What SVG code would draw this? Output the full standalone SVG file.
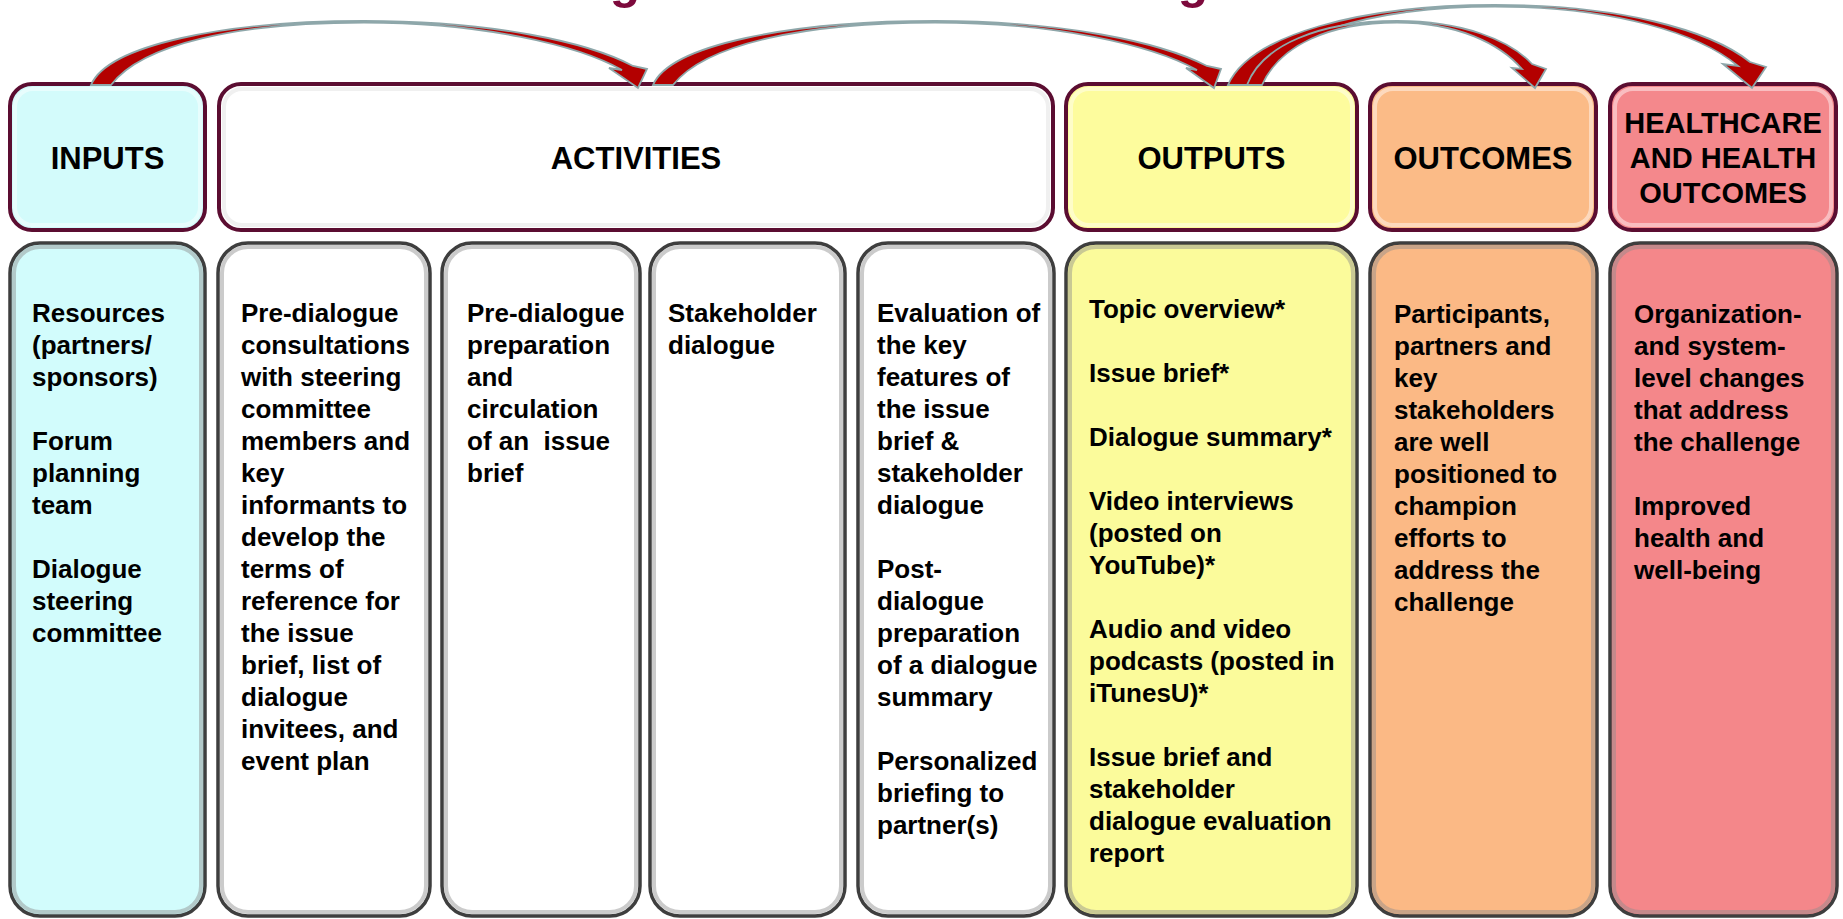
<svg xmlns="http://www.w3.org/2000/svg" width="1843" height="919" viewBox="0 0 1843 919">
<style>
.hb{stroke:#5b0d31;stroke-width:4}
.hi{fill:none;stroke:#ffffff;stroke-opacity:.45;stroke-width:4}
.cb{stroke:#3e3e3e;stroke-width:3.5}
.ci{fill:none;stroke:#8c8c8c;stroke-opacity:.45;stroke-width:4}
.h{font-family:"Liberation Sans",Arial,sans-serif;font-weight:bold;font-size:31px;fill:#000;text-anchor:middle}
.h2{font-size:29px}
.b{font-family:"Liberation Sans",Arial,sans-serif;font-weight:bold;font-size:26px;fill:#000}
.arr{fill:#b30000;stroke:#8ea7aa;stroke-width:1.8;stroke-linejoin:miter}
.ttl{font-family:"Liberation Sans",Arial,sans-serif;font-weight:bold;font-size:50px;fill:#7d0a3c;text-anchor:middle}
</style>
<rect width="1843" height="919" fill="#ffffff"/>
<g id="title-fragments">
<text class="ttl" x="625" y="-2">g</text>
<text class="ttl" x="1193" y="-2">g</text>
</g>
<g id="hdr-inputs">
<rect class="hb" x="10" y="84" width="195" height="146" rx="22" fill="#d3fbfb"/>
<rect class="hi" x="15" y="89" width="185" height="136" rx="18"/>
<text class="h" x="107.5" y="169">INPUTS</text>
</g>
<g id="hdr-activities">
<rect class="hb" x="219" y="84" width="834" height="146" rx="22" fill="#ffffff"/>
<rect class="hi" x="224" y="89" width="824" height="136" rx="18" style="stroke:#e6e6e6;stroke-opacity:.6"/>
<text class="h" x="636" y="169">ACTIVITIES</text>
</g>
<g id="hdr-outputs">
<rect class="hb" x="1066" y="84" width="291" height="146" rx="22" fill="#fdfc9d"/>
<rect class="hi" x="1071" y="89" width="281" height="136" rx="18"/>
<text class="h" x="1211.5" y="169">OUTPUTS</text>
</g>
<g id="hdr-outcomes">
<rect class="hb" x="1370" y="84" width="226" height="146" rx="22" fill="#fbbb87"/>
<rect class="hi" x="1375" y="89" width="216" height="136" rx="18"/>
<text class="h" x="1483" y="169">OUTCOMES</text>
</g>
<g id="hdr-health">
<rect class="hb" x="1610" y="84" width="226" height="146" rx="22" fill="#f4888c"/>
<rect class="hi" x="1615" y="89" width="216" height="136" rx="18"/>
<text class="h h2"><tspan x="1723" y="133">HEALTHCARE</tspan><tspan x="1723" y="168">AND HEALTH</tspan><tspan x="1723" y="203">OUTCOMES</tspan></text>
</g>
<g id="col-inputs">
<rect class="cb" x="10" y="243" width="195" height="673" rx="30" fill="#d2fcfc"/>
<rect class="ci" x="14" y="247" width="187" height="665" rx="26"/>
<text class="b"><tspan x="32" y="322">Resources</tspan><tspan x="32" y="354">(partners/</tspan><tspan x="32" y="386">sponsors)</tspan><tspan x="32" y="450">Forum</tspan><tspan x="32" y="482">planning</tspan><tspan x="32" y="514">team</tspan><tspan x="32" y="578">Dialogue</tspan><tspan x="32" y="610">steering</tspan><tspan x="32" y="642">committee</tspan></text>
</g>
<g id="col-act1">
<rect class="cb" x="218" y="243" width="212" height="673" rx="30" fill="#ffffff"/>
<rect class="ci" x="222" y="247" width="204" height="665" rx="26"/>
<text class="b"><tspan x="241" y="322">Pre-dialogue</tspan><tspan x="241" y="354">consultations</tspan><tspan x="241" y="386">with steering</tspan><tspan x="241" y="418">committee</tspan><tspan x="241" y="450">members and</tspan><tspan x="241" y="482">key</tspan><tspan x="241" y="514">informants to</tspan><tspan x="241" y="546">develop the</tspan><tspan x="241" y="578">terms of</tspan><tspan x="241" y="610">reference for</tspan><tspan x="241" y="642">the issue</tspan><tspan x="241" y="674">brief, list of</tspan><tspan x="241" y="706">dialogue</tspan><tspan x="241" y="738">invitees, and</tspan><tspan x="241" y="770">event plan</tspan></text>
</g>
<g id="col-act2">
<rect class="cb" x="442" y="243" width="198" height="673" rx="30" fill="#ffffff"/>
<rect class="ci" x="446" y="247" width="190" height="665" rx="26"/>
<text class="b" xml:space="preserve"><tspan x="467" y="322">Pre-dialogue</tspan><tspan x="467" y="354">preparation</tspan><tspan x="467" y="386">and</tspan><tspan x="467" y="418">circulation</tspan><tspan x="467" y="450">of an  issue</tspan><tspan x="467" y="482">brief</tspan></text>
</g>
<g id="col-act3">
<rect class="cb" x="650" y="243" width="195" height="673" rx="30" fill="#ffffff"/>
<rect class="ci" x="654" y="247" width="187" height="665" rx="26"/>
<text class="b"><tspan x="668" y="322">Stakeholder</tspan><tspan x="668" y="354">dialogue</tspan></text>
</g>
<g id="col-act4">
<rect class="cb" x="858" y="243" width="196" height="673" rx="30" fill="#ffffff"/>
<rect class="ci" x="862" y="247" width="188" height="665" rx="26"/>
<text class="b"><tspan x="877" y="322">Evaluation of</tspan><tspan x="877" y="354">the key</tspan><tspan x="877" y="386">features of</tspan><tspan x="877" y="418">the issue</tspan><tspan x="877" y="450">brief &amp;</tspan><tspan x="877" y="482">stakeholder</tspan><tspan x="877" y="514">dialogue</tspan><tspan x="877" y="578">Post-</tspan><tspan x="877" y="610">dialogue</tspan><tspan x="877" y="642">preparation</tspan><tspan x="877" y="674">of a dialogue</tspan><tspan x="877" y="706">summary</tspan><tspan x="877" y="770">Personalized</tspan><tspan x="877" y="802">briefing to</tspan><tspan x="877" y="834">partner(s)</tspan></text>
</g>
<g id="col-outputs">
<rect class="cb" x="1066" y="243" width="291" height="673" rx="30" fill="#fbfb9b"/>
<rect class="ci" x="1070" y="247" width="283" height="665" rx="26"/>
<text class="b"><tspan x="1089" y="318">Topic overview*</tspan><tspan x="1089" y="382">Issue brief*</tspan><tspan x="1089" y="446">Dialogue summary*</tspan><tspan x="1089" y="510">Video interviews</tspan><tspan x="1089" y="542">(posted on</tspan><tspan x="1089" y="574">YouTube)*</tspan><tspan x="1089" y="638">Audio and video</tspan><tspan x="1089" y="670">podcasts (posted in</tspan><tspan x="1089" y="702">iTunesU)*</tspan><tspan x="1089" y="766">Issue brief and</tspan><tspan x="1089" y="798">stakeholder</tspan><tspan x="1089" y="830">dialogue evaluation</tspan><tspan x="1089" y="862">report</tspan></text>
</g>
<g id="col-outcomes">
<rect class="cb" x="1370" y="243" width="227" height="673" rx="30" fill="#fbb985"/>
<rect class="ci" x="1374" y="247" width="219" height="665" rx="26"/>
<text class="b"><tspan x="1394" y="323">Participants,</tspan><tspan x="1394" y="355">partners and</tspan><tspan x="1394" y="387">key</tspan><tspan x="1394" y="419">stakeholders</tspan><tspan x="1394" y="451">are well</tspan><tspan x="1394" y="483">positioned to</tspan><tspan x="1394" y="515">champion</tspan><tspan x="1394" y="547">efforts to</tspan><tspan x="1394" y="579">address the</tspan><tspan x="1394" y="611">challenge</tspan></text>
</g>
<g id="col-health">
<rect class="cb" x="1610" y="243" width="227" height="673" rx="30" fill="#f4878a"/>
<rect class="ci" x="1614" y="247" width="219" height="665" rx="26"/>
<text class="b"><tspan x="1634" y="323">Organization-</tspan><tspan x="1634" y="355">and system-</tspan><tspan x="1634" y="387">level changes</tspan><tspan x="1634" y="419">that address</tspan><tspan x="1634" y="451">the challenge</tspan><tspan x="1634" y="515">Improved</tspan><tspan x="1634" y="547">health and</tspan><tspan x="1634" y="579">well-being</tspan></text>
</g>
<g id="connectors">
<path class="arr" d="M 91,85 C 108,45 225,21 364,21 C 492,21 588,42 633,66 L 647,69 L 638,88 L 609,68 L 622,70 C 578,45 482,22.5 364,22.5 C 238,22.5 142,44 111,85 Z"/>
<path class="arr" d="M 653,85 C 670,45 790,21 935,21 C 1063,21 1160,42 1207,66 L 1221,69 L 1214,88 L 1186,68 L 1197,70 C 1152,45 1055,22.5 935,22.5 C 805,22.5 705,44 673,85 Z"/>
<path class="arr" d="M 1228,85 C 1250,35 1360,5 1495,5 C 1620,5 1710,30 1750,62 L 1766,67 L 1752,88 L 1723,64 L 1738,66 C 1700,34 1615,6.5 1495,6.5 C 1370,6.5 1270,38 1250,85 Z"/>
<path class="arr" d="M 1247,85 C 1262,45 1320,21 1397,21 C 1462,21 1510,40 1532,64 L 1546,69 L 1535,88 L 1512,68 L 1522,69 C 1500,44 1458,22.5 1397,22.5 C 1330,22.5 1280,45 1262,85 Z"/>
</g>
</svg>
